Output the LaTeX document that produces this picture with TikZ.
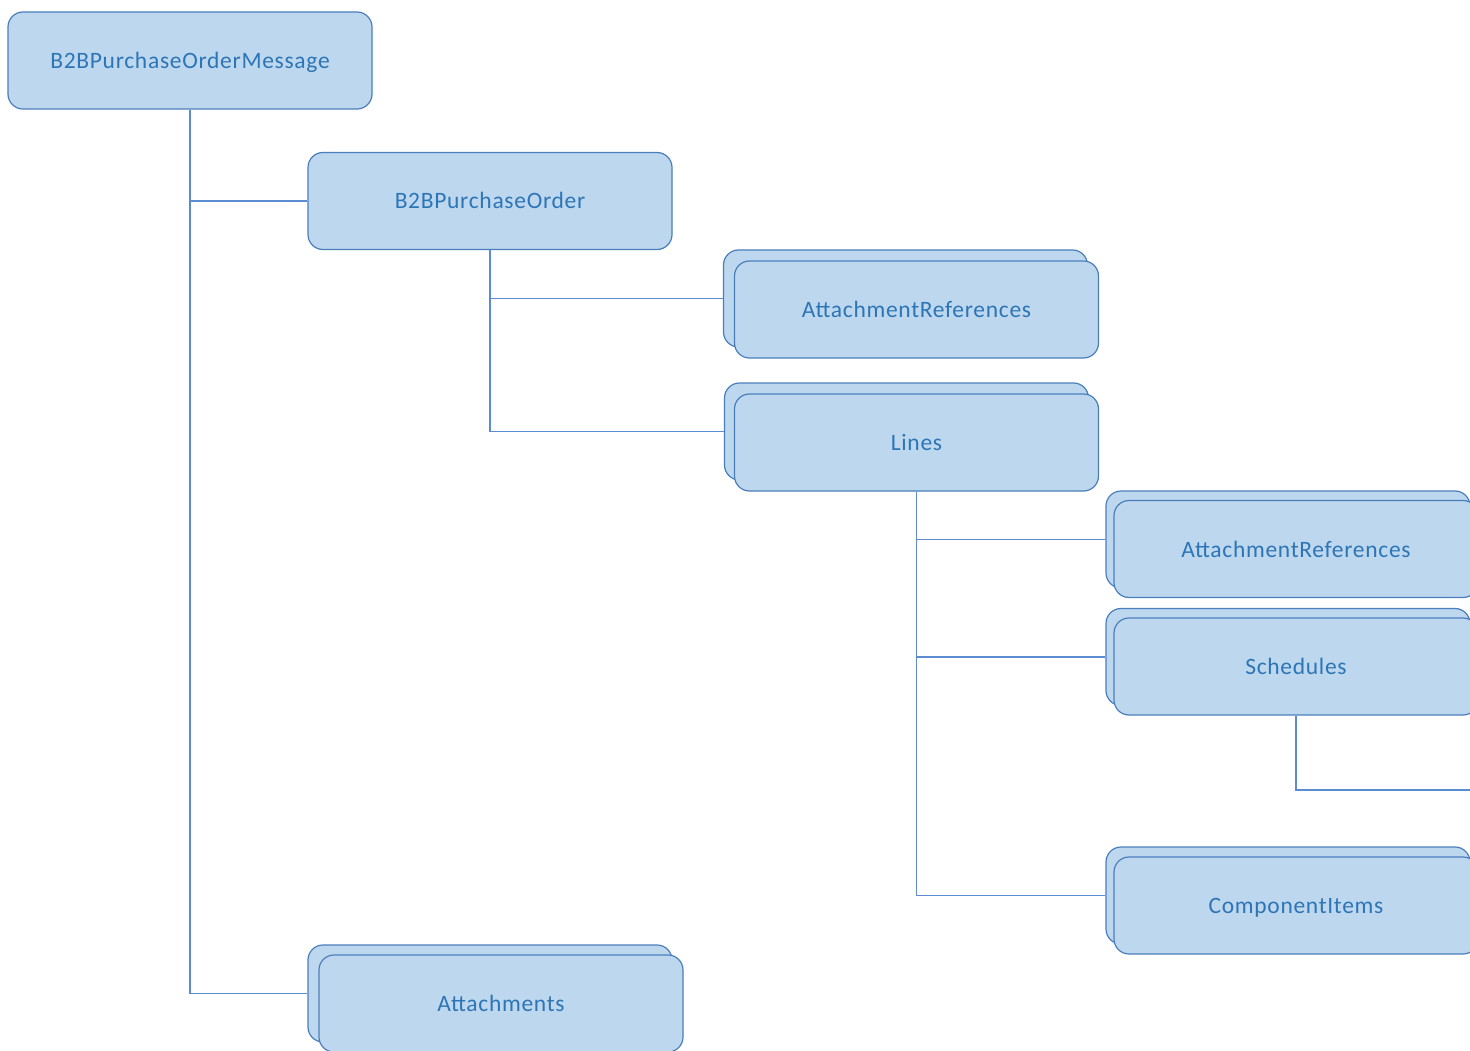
\documentclass[tikz,border=0pt]{standalone}
\usepackage{fontspec}
\setmainfont{Carlito}[LetterSpace=3]
\definecolor{boxfill}{HTML}{BDD7EE}
\definecolor{boxline}{HTML}{4A7EBB}
\definecolor{conline}{HTML}{5B8BD0}
\definecolor{txt}{HTML}{2E75B6}
\tikzset{
  box/.style={draw=boxline, fill=boxfill, line width=1.2pt, rounded corners=15pt,
    minimum width=364pt, minimum height=97pt, inner sep=0pt,
    text height=18pt, text depth=2pt,
    text=txt, font=\fontsize{23.5}{28}\selectfont},
  backbox/.style={box},
  conn/.style={draw=conline, line width=1.3pt}
}
\begin{document}
\begin{tikzpicture}[x=1pt,y=-1pt]
\useasboundingbox (0,0) rectangle (1470,1051);
\clip (0,0) rectangle (1470,1051);
% single boxes
\node[box] (msg) at (190,60.5) {B2BPurchaseOrderMessage};
\node[box] (po) at (490,201) {B2BPurchaseOrder};
% stacked boxes (back, then front)
\node[backbox] (ar1b) at (905.5,298.5) {};
\node[box] (ar1) at (916.5,309.5) {AttachmentReferences};
\node[backbox] (linesb) at (906.5,431.5) {};
\node[box] (lines) at (916.5,442.5) {Lines};
\node[backbox] (ar2b) at (1288,539.5) {};
\node[box] (ar2) at (1296,549) {AttachmentReferences};
\node[backbox] (schb) at (1288,657) {};
\node[box] (sch) at (1296,666.5) {Schedules};
\node[backbox] (cib) at (1288,895.5) {};
\node[box] (ci) at (1296,905.5) {ComponentItems};
\node[backbox] (attb) at (490,993.5) {};
\node[box] (att) at (501,1003.5) {Attachments};
\coordinate (schend) at (1472,790);
% connectors
\draw[conn] (msg.south) |- (po.west);
\draw[conn] (msg.south) |- (attb.west);
\draw[conn] (po.south) |- (ar1b.west);
\draw[conn] (po.south) |- (linesb.west);
\draw[conn] (lines.south) |- (ar2b.west);
\draw[conn] (lines.south) |- (schb.west);
\draw[conn] (lines.south) |- (cib.west);
\draw[conn] (sch.south) |- (schend);
\end{tikzpicture}
\end{document}
